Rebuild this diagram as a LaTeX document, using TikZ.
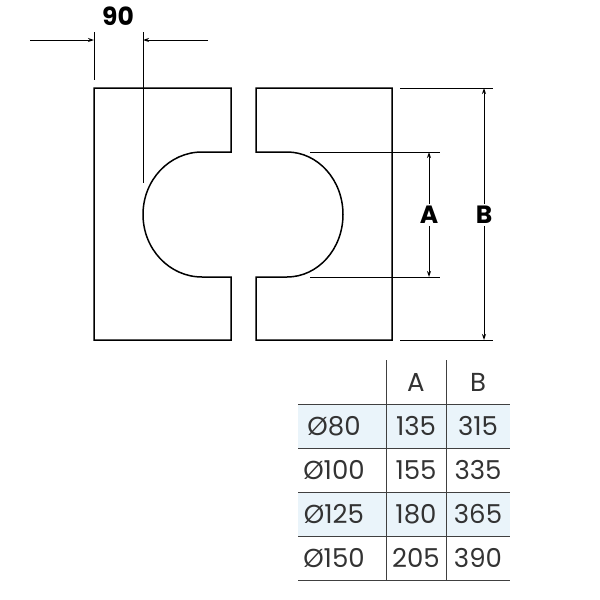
\documentclass[tikz,border=0pt]{standalone}
\usepackage{fontspec}
\setmainfont{Poppins}
\usetikzlibrary{arrows.meta}
\definecolor{rowshade}{RGB}{234,244,250}
\tikzset{
  part/.style={line width=1.5pt},
  dimline/.style={line width=1pt},
  dimarrow/.style={line width=1pt,-{Stealth[length=6pt,width=4pt]}},
  dimlabel/.style={fill=white,inner sep=2pt,font=\bfseries\fontsize{25}{30}\selectfont},
  cell/.style={font=\fontsize{26}{30}\selectfont\color{black!80}},
  rule/.style={line width=0.8pt,black!75}
}
\begin{document}
\begin{tikzpicture}[x=1pt,y=-1pt]
\useasboundingbox (0,0) rectangle (600,600);
% pieces
\draw[part] (202,152) -- (231,152) -- (231,88) -- (94,88) -- (94,340) -- (231,340) -- (231,277) -- (202,277)
  arc[start angle=270,end angle=90,x radius=59,y radius=-62.5];
\draw[part] (287,152) -- (256,152) -- (256,88) -- (392,88) -- (392,340) -- (256,340) -- (256,277) -- (287,277)
  arc[start angle=-90,end angle=90,x radius=56,y radius=-62.5];
% dimension 90
\coordinate (l1) at (94,40);
\coordinate (l2) at (143,40);
\draw[dimline] (94,32) -- (94,80);
\draw[dimline] (143,32) -- (143,183);
\draw[dimarrow] (30,40) -- (l1);
\draw[dimarrow] (208,40) -- (l2);
\node[dimlabel] (n90) at (118,16) {90};
% dimensions A and B
\draw[dimline] (400,88) -- (493,88);
\draw[dimline] (400,340) -- (493,340);
\draw[dimline] (310,152) -- (440,152);
\draw[dimline] (310,277) -- (440,277);
\node[dimlabel] (lB) at (484,215) {B};
\node[dimlabel] (lA) at (429,215) {A};
\coordinate (B1) at (484,88);
\coordinate (B2) at (484,340);
\coordinate (A1) at (429,152);
\coordinate (A2) at (429,277);
\draw[dimarrow] (lB) -- (B1);
\draw[dimarrow] (lB) -- (B2);
\draw[dimarrow] (lA) -- (A1);
\draw[dimarrow] (lA) -- (A2);
% table
\fill[rowshade] (298,404) rectangle (510,448);
\fill[rowshade] (298,492) rectangle (510,536);
\draw[rule] (386,360) -- (386,580);
\draw[rule] (446,360) -- (446,580);
\foreach \y in {404,448,492,536,580}
  \draw[rule] (298,\y) -- (510,\y);
\node[cell] at (416,382) {A};
\node[cell] at (478,382) {B};
\foreach \d/\a/\b [count=\i] in {80/135/315,100/155/335,125/180/365,150/205/390} {
  \node[cell] at (334,382+44*\i) {Ø\d};
  \node[cell] at (416,382+44*\i) {\a};
  \node[cell] at (478,382+44*\i) {\b};
}
\end{tikzpicture}
\end{document}
